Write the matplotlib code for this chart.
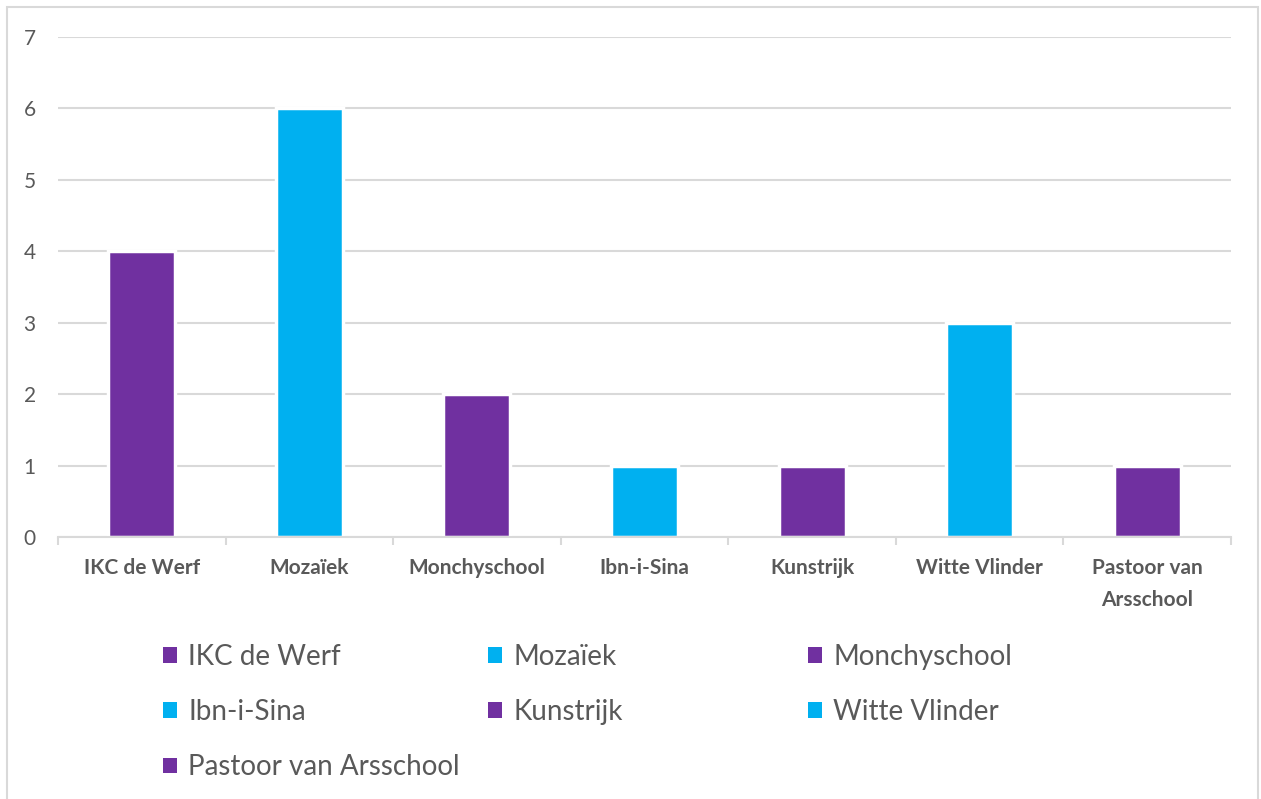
import matplotlib.pyplot as plt
from matplotlib.patches import Patch, Rectangle
import numpy as np

# data
schools = ['IKC de Werf', 'Mozaïek', 'Monchyschool', 'Ibn-i-Sina',
           'Kunstrijk', 'Witte Vlinder', 'Pastoor van Arsschool']
tick_labels = ['IKC de Werf', 'Mozaïek', 'Monchyschool', 'Ibn-i-Sina',
               'Kunstrijk', 'Witte Vlinder', 'Pastoor van\nArsschool']
counts = [4, 6, 2, 1, 1, 3, 1]

purple = '#7030A0'
cyan = '#00B0F0'
clrs = [purple, cyan] * 3 + [purple]
grey_txt = '#595959'
grid_clr = '#D9D9D9'

plt.rcParams['font.family'] = ['Lato', 'DejaVu Sans']

fig = plt.figure(figsize=(12.61, 7.99), dpi=100)
ax = fig.add_axes([58 / 1261, 262 / 799, (1231 - 58) / 1261, 500 / 799])

x = np.arange(len(schools))
ax.bar(x, counts, width=0.4, color=clrs, edgecolor='white', linewidth=2.5, zorder=3)

ax.set_xlim(-0.5, len(schools) - 0.5)
ax.set_ylim(0, 7)
ax.set_yticks(range(0, 8))
ax.yaxis.grid(True, color=grid_clr, linewidth=1.5, zorder=0)
ax.set_axisbelow(True)

for s in ['top', 'right', 'left']:
    ax.spines[s].set_visible(False)
ax.spines['bottom'].set_color(grid_clr)
ax.spines['bottom'].set_linewidth(1.5)
ax.spines['bottom'].set_zorder(4)

ax.set_xticks(x)
ax.set_xticklabels(tick_labels, fontsize=15, fontweight='bold', color=grey_txt, linespacing=1.75)
ax.set_xticks(np.arange(-0.5, len(schools)), minor=True)
ax.tick_params(axis='x', which='major', length=0, pad=15)
ax.tick_params(axis='x', which='minor', length=6, width=1.5, color=grid_clr)
ax.tick_params(axis='y', length=0, pad=16, labelsize=15, labelcolor=grey_txt)

# legend in three equal-width columns (row-major like the original)
handles = [Patch(facecolor=c, edgecolor='none') for c in clrs]
col_x = [163, 488, 808]
for ci, cx in enumerate(col_x):
    idx = list(range(ci, len(schools), 3))
    leg = fig.legend([handles[i] for i in idx], [schools[i] for i in idx],
                     loc='upper left', bbox_to_anchor=(cx / 1261, 1 - 644 / 799),
                     frameon=False, fontsize=20, labelcolor=grey_txt,
                     handlelength=0.5, handleheight=0.5, handletextpad=0.4,
                     labelspacing=1.05, borderpad=0, borderaxespad=0)

# light outer border
fig.patches.append(Rectangle((7 / 1261, -0.01), 1251 / 1261, 1 - 7 / 799 + 0.01,
                             transform=fig.transFigure, fill=False,
                             edgecolor=grid_clr, linewidth=1.5))

fig.savefig('out.png', dpi=100)
